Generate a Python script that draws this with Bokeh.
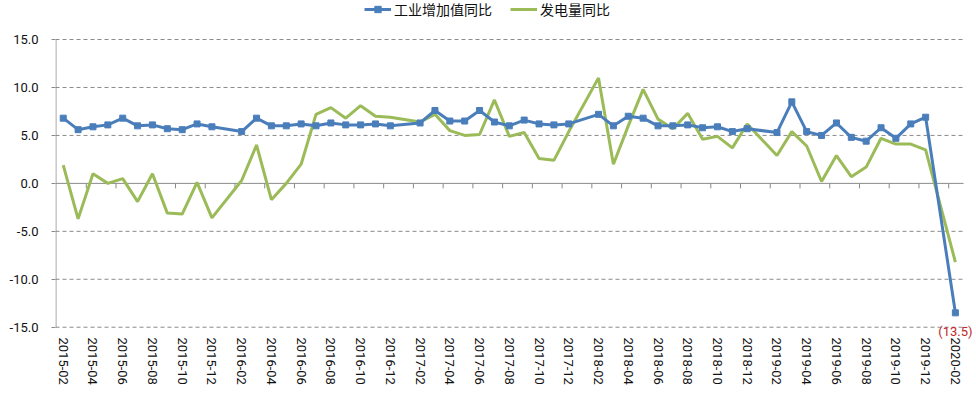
from bokeh.plotting import figure
from bokeh.models import (FixedTicker, NumeralTickFormatter, Legend, LegendItem,
                          Label, Range1d)
from bokeh.embed import file_html
from bokeh.resources import INLINE

# ---------------- data ----------------
months = (
    ["2015-%02d" % m for m in range(2, 13)] +
    ["2016-%02d" % m for m in range(2, 13)] +
    ["2017-%02d" % m for m in range(2, 13)] +
    ["2018-%02d" % m for m in range(2, 13)] +
    ["2019-%02d" % m for m in range(2, 13)] +
    ["2020-02"]
)

industry_yoy = [
    6.8, 5.6, 5.9, 6.1, 6.8, 6.0, 6.1, 5.7, 5.6, 6.2, 5.9,
    5.4, 6.8, 6.0, 6.0, 6.2, 6.0, 6.3, 6.1, 6.1, 6.2, 6.0,
    6.3, 7.6, 6.5, 6.5, 7.6, 6.4, 6.0, 6.6, 6.2, 6.1, 6.2,
    7.2, 6.0, 7.0, 6.8, 6.0, 6.0, 6.1, 5.8, 5.9, 5.4, 5.7,
    5.3, 8.5, 5.4, 5.0, 6.3, 4.8, 4.4, 5.8, 4.7, 6.2, 6.9,
    -13.5,
]

power_yoy = [
    1.9, -3.7, 1.0, 0.0, 0.5, -1.9, 1.0, -3.1, -3.2, 0.1, -3.6,
    0.3, 4.0, -1.7, 0.0, 2.0, 7.2, 7.9, 6.8, 8.1, 7.0, 6.9,
    6.4, 7.2, 5.5, 5.0, 5.1, 8.7, 4.9, 5.3, 2.6, 2.4, 5.4,
    11.0, 2.0, 6.0, 9.8, 6.7, 5.7, 7.3, 4.6, 4.9, 3.7, 6.2,
    2.9, 5.4, 3.9, 0.2, 2.9, 0.7, 1.7, 4.7, 4.1, 4.1, 3.5,
    -8.2,
]

tick_labels = ["%d-%02d" % (y, m) for y in range(2015, 2021) for m in (2, 4, 6, 8, 10, 12)][:31]
y_ticks = [-15, -10, -5, 0, 5, 10, 15]

series_names = ["工业增加值同比", "发电量同比"]

# ---------------- helpers ----------------
def month_index(s):
    y, m = s.split("-")
    return (int(y) - 2015) * 12 + (int(m) - 2)

x = [month_index(s) for s in months]
tick_pos = [month_index(s) for s in tick_labels]
minor_pos = [t + 1.55 for t in tick_pos[:-1]]

BLUE = "#4A7EBB"
GREEN = "#9BBB59"
GRAY = "#8A8A8A"
FONT = "Roboto"
CJK = "Noto Sans CJK SC"

X0, X1 = -0.52, 61.42       # visible x window
GRID_END = 60.55            # where the plot area of the original ends
Y0, Y1 = -16.28, 19.07

p = figure(width=976, height=390, output_backend="svg", toolbar_location=None,
           x_range=Range1d(X0, X1), y_range=Range1d(Y0, Y1),
           min_border_left=55, min_border_right=0, min_border_top=0, min_border_bottom=51)
p.outline_line_color = None
p.background_fill_color = "white"

# grid (drawn as dashed segments limited to the plot area)
p.xgrid.grid_line_color = None
p.ygrid.grid_line_color = None
grid_y = [t for t in y_ticks if t != 0]
p.segment(x0=[X0] * len(grid_y), y0=grid_y, x1=[GRID_END] * len(grid_y), y1=grid_y,
          line_color=GRAY, line_width=1, line_dash="4 3")

# y axis
p.yaxis.ticker = FixedTicker(ticks=y_ticks)
p.yaxis.formatter = NumeralTickFormatter(format="0.0")
p.yaxis.axis_line_color = None
p.yaxis.major_tick_line_color = GRAY
p.yaxis.major_tick_out = 4
p.yaxis.major_tick_in = 0
p.yaxis.minor_tick_line_color = None
p.yaxis.major_label_standoff = 13
p.yaxis.major_label_text_font = FONT
p.yaxis.major_label_text_font_size = "13px"
p.yaxis.major_label_text_color = "#111111"

# x axis (labels at bottom, axis line at zero)
p.xaxis.ticker = FixedTicker(ticks=tick_pos)
p.xaxis.major_label_overrides = {t: l for t, l in zip(tick_pos, tick_labels)}
p.xaxis.major_label_orientation = "vertical"
p.xaxis.axis_line_color = None
p.xaxis.major_tick_line_color = None
p.xaxis.minor_tick_line_color = None
p.xaxis.major_tick_out = 0
p.xaxis.major_tick_in = 0
p.xaxis.major_label_standoff = -2
p.xaxis.major_label_text_font = FONT
p.xaxis.major_label_text_font_size = "13px"
p.xaxis.major_label_text_color = "#111111"

# vertical axis line spanning -15..15
p.segment(x0=[X0 + 0.03], y0=[y_ticks[0]], x1=[X0 + 0.03], y1=[y_ticks[-1]],
          line_color=GRAY, line_width=1)

# zero line with tick marks
p.segment(x0=[X0], y0=[0], x1=[GRID_END], y1=[0], line_color=GRAY, line_width=1)
p.segment(x0=minor_pos, y0=[0] * len(minor_pos), x1=minor_pos, y1=[-0.52] * len(minor_pos),
          line_color=GRAY, line_width=1)

# series
g_line = p.line(x, power_yoy, line_color=GREEN, line_width=3)
b_line = p.line(x, industry_yoy, line_color=BLUE, line_width=3)
b_pts = p.scatter(x, industry_yoy, marker="square", size=6, fill_color=BLUE, line_color=BLUE)

# annotation for last value
p.add_layout(Label(x=x[-1], y=industry_yoy[-1], text="(%.1f)" % abs(industry_yoy[-1]),
                   y_offset=-19, text_align="center", text_baseline="middle",
                   text_color="#C0282D", text_font=FONT, text_font_size="13px"))

legend = Legend(items=[LegendItem(label=series_names[0], renderers=[b_line, b_pts]),
                       LegendItem(label=series_names[1], renderers=[g_line])],
                location=(309, 320), orientation="horizontal",
                padding=0, margin=0, spacing=18, label_standoff=3,
                glyph_width=27, glyph_height=16, label_height=16,
                label_text_font=CJK, label_text_font_size="14px",
                label_text_color="#111111",
                border_line_color=None, background_fill_alpha=0)
p.add_layout(legend)

open("out.html", "w").write(file_html(p, INLINE))
